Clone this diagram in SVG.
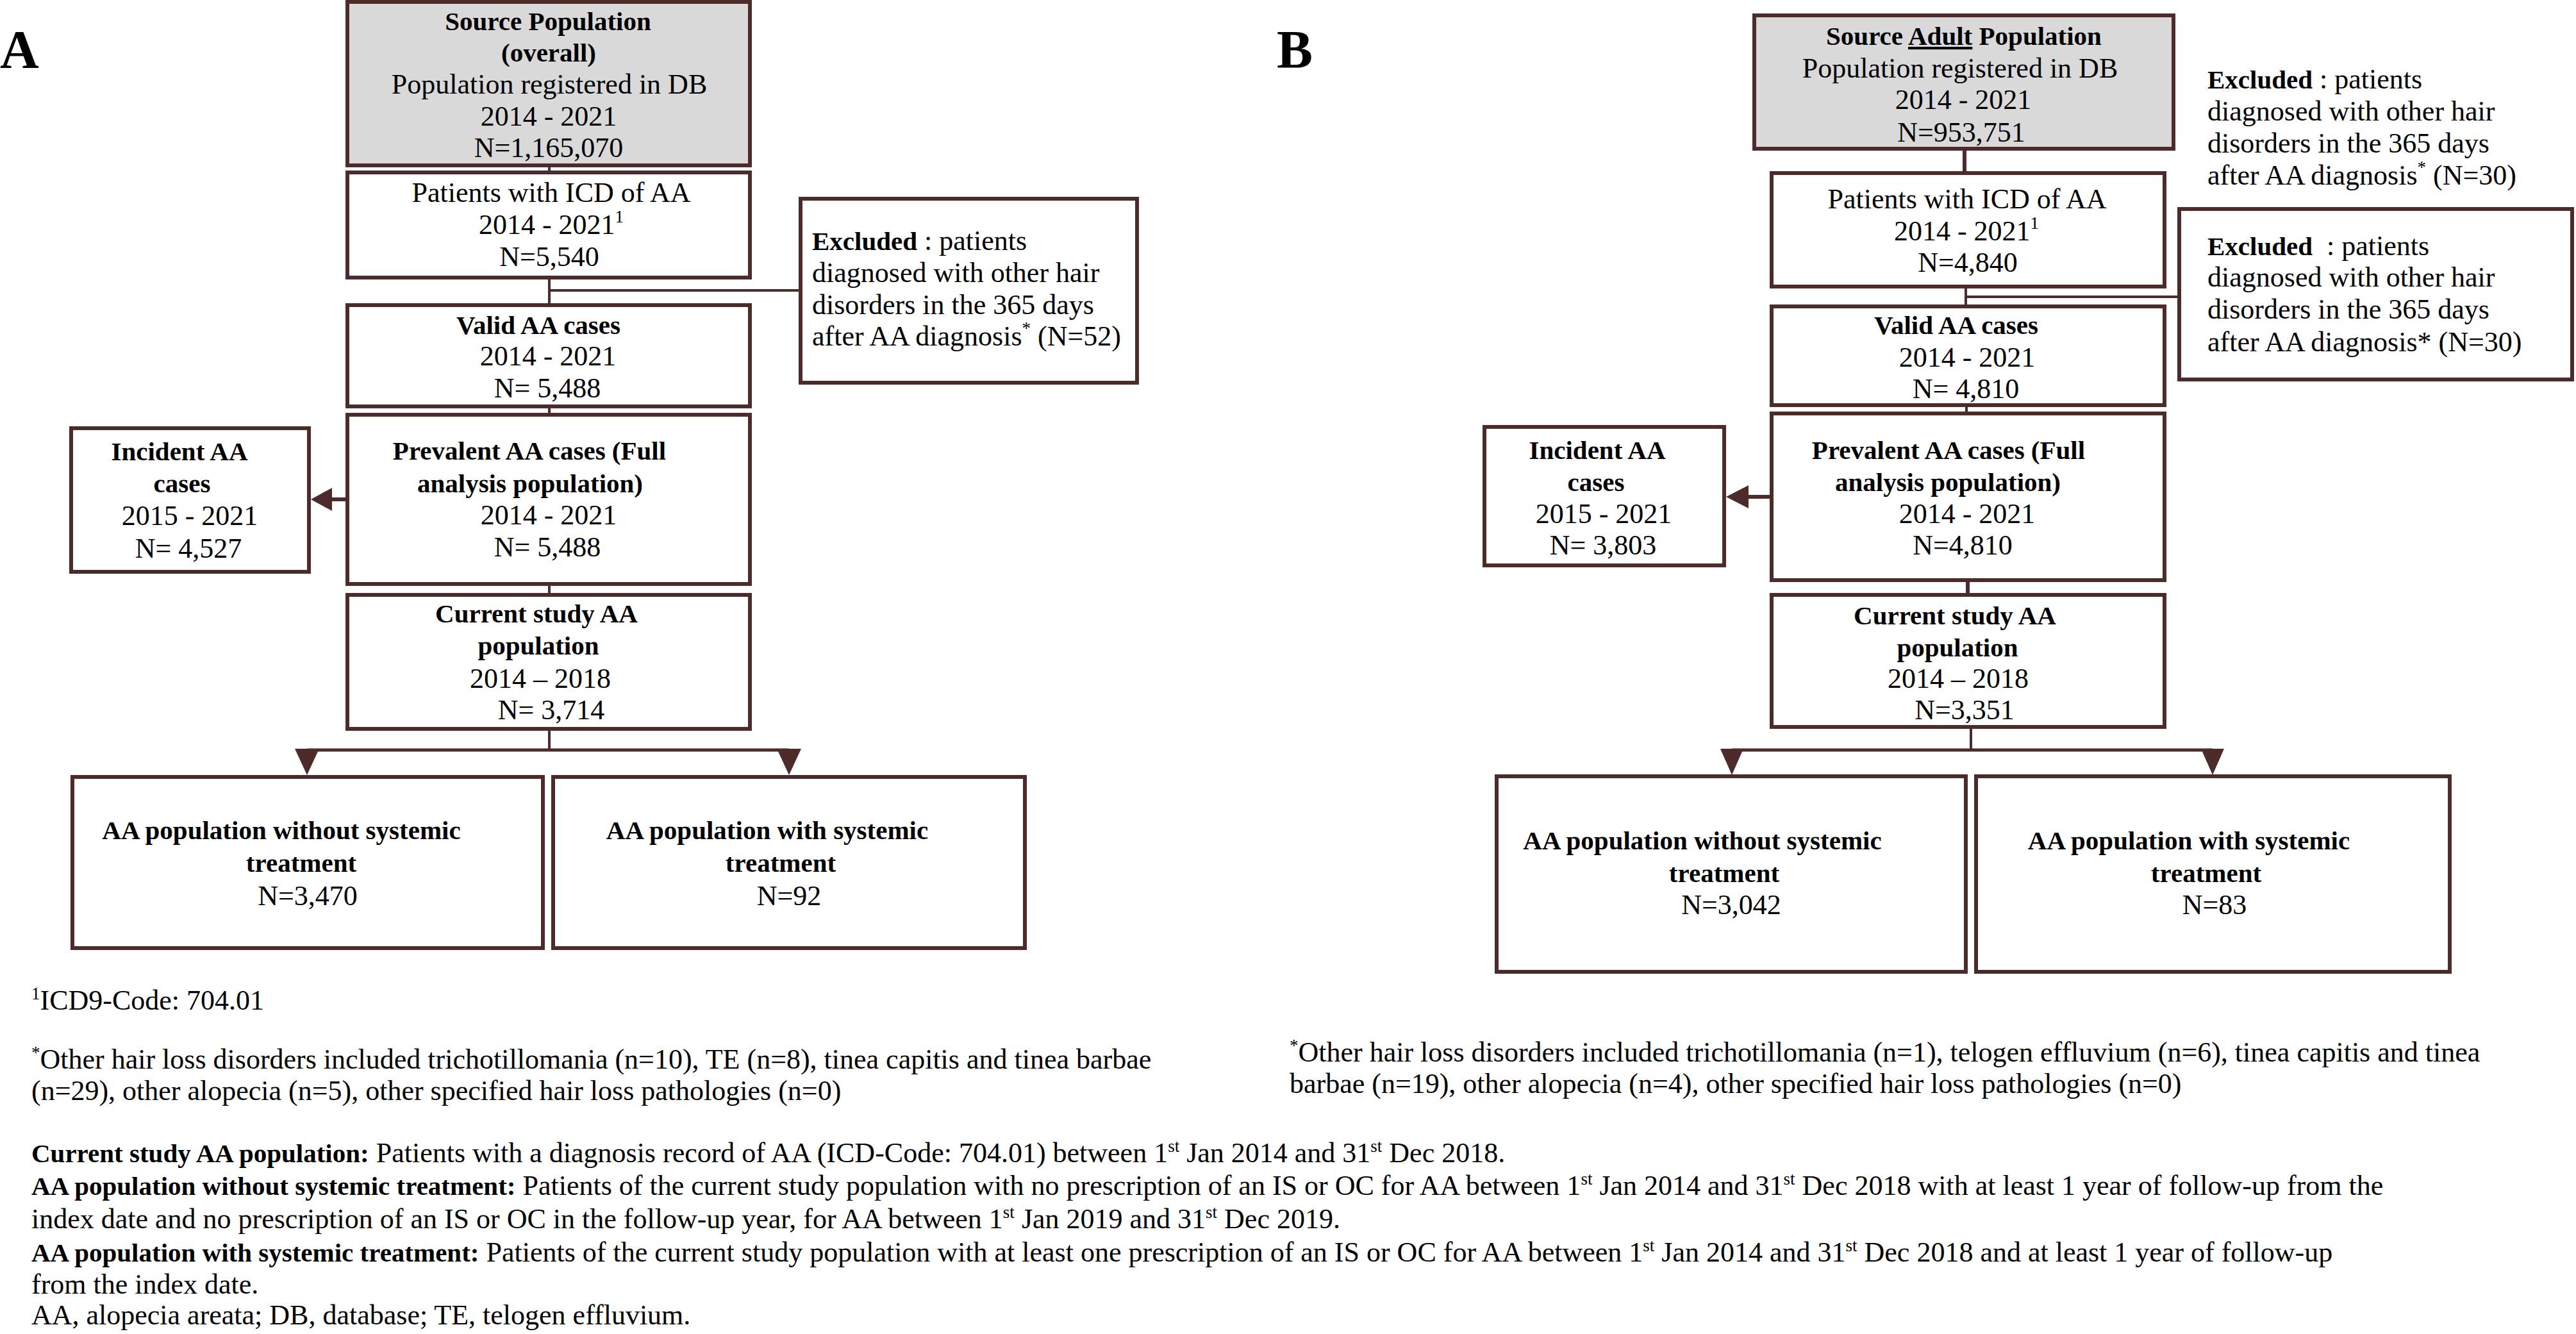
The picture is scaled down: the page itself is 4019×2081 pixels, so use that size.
<svg xmlns="http://www.w3.org/2000/svg" width="4019" height="2081" viewBox="0 0 4019 2081">
<style>
.box{fill:#fff;stroke:#4d2b2b;stroke-width:6}
.src{fill:#d9d9d9;stroke:#4d2b2b;stroke-width:6}
text{font-family:"Liberation Serif","Times New Roman",serif;font-size:44px;fill:#000}
.c{text-anchor:middle}
.b{font-weight:bold;font-size:41px}
.lbl{font-weight:bold;font-size:84px}
.conn{stroke:#4d2b2b;stroke-width:4;fill:none}
.thick{stroke-width:6}
.head{fill:#4d2b2b}
.sup{font-size:27px}
</style>
<rect width="4019" height="2081" fill="#fff"/>
<text class="lbl" x="0" y="106">A</text>
<text class="lbl" x="1992" y="106">B</text>

<g id="connectors">
<line class="conn" x1="857" y1="258" x2="857" y2="269"/>
<line class="conn" x1="857" y1="433" x2="857" y2="476"/>
<line class="conn" x1="857" y1="453" x2="1249" y2="453"/>
<line class="conn" x1="857" y1="634" x2="857" y2="647"/>
<line class="conn" x1="857" y1="911" x2="857" y2="928"/>
<line class="conn thick" x1="542" y1="779" x2="516" y2="779"/>
<polygon class="head" points="485,779 518,761 518,797"/>
<line class="conn" x1="857" y1="1137" x2="857" y2="1170"/>
<line class="conn" x1="479" y1="1170" x2="1231" y2="1170" style="stroke-width:5"/>
<polygon class="head" points="460,1168 498,1168 479,1209"/>
<polygon class="head" points="1212,1168 1250,1168 1231,1209"/>

<line class="conn thick" x1="3065" y1="232" x2="3065" y2="270"/>
<line class="conn" x1="3067" y1="447" x2="3067" y2="478"/>
<line class="conn" x1="3067" y1="463" x2="3400" y2="463"/>
<line class="conn" x1="3068" y1="632" x2="3068" y2="645"/>
<line class="conn thick" x1="3070" y1="905" x2="3070" y2="928"/>
<line class="conn thick" x1="2764" y1="775" x2="2726" y2="775"/>
<polygon class="head" points="2693,775 2728,757 2728,793"/>
<line class="conn" x1="3075" y1="1134" x2="3075" y2="1170"/>
<line class="conn" x1="2702" y1="1170" x2="3452" y2="1170" style="stroke-width:5"/>
<polygon class="head" points="2684,1168 2720,1168 2702,1209"/>
<polygon class="head" points="3434,1168 3470,1168 3452,1209"/>
</g>

<g id="a-source">
<rect class="src" x="542" y="3" width="628" height="255"/>
<text class="c b" x="855" y="47">Source Population</text>
<text class="c b" x="856" y="96">(overall)</text>
<text class="c" x="857" y="146">Population registered in DB</text>
<text class="c" x="856" y="196">2014 - 2021</text>
<text class="c" x="856" y="245">N=1,165,070</text>
</g>
<g id="a-icd">
<rect class="box" x="542" y="269" width="628" height="164"/>
<text class="c" x="860" y="315">Patients with ICD of AA</text>
<text class="c" x="860" y="365">2014 - 2021<tspan class="sup" dy="-18">1</tspan></text>
<text class="c" x="857" y="415">N=5,540</text>
</g>
<g id="a-valid">
<rect class="box" x="542" y="476" width="628" height="158"/>
<text class="c b" x="840" y="521">Valid AA cases</text>
<text class="c" x="855" y="570">2014 - 2021</text>
<text class="c" x="854" y="620">N= 5,488</text>
</g>
<g id="a-excluded">
<rect class="box" x="1249" y="310" width="525" height="287"/>
<text x="1267" y="390"><tspan font-weight="bold" font-size="41">Excluded</tspan> : patients</text>
<text x="1267" y="440">diagnosed with other hair</text>
<text x="1267" y="490">disorders in the 365 days</text>
<text x="1267" y="539">after AA diagnosis<tspan class="sup" dy="-18">*</tspan><tspan dy="18"> (N=52)</tspan></text>
</g>
<g id="a-prevalent">
<rect class="box" x="542" y="647" width="628" height="264"/>
<text class="c b" x="826" y="717">Prevalent AA cases (Full</text>
<text class="c b" x="827" y="768">analysis population)</text>
<text class="c" x="856" y="818">2014 - 2021</text>
<text class="c" x="854" y="868">N= 5,488</text>
</g>
<g id="a-incident">
<rect class="box" x="111" y="668" width="371" height="224"/>
<text class="c b" x="280" y="718">Incident AA</text>
<text class="c b" x="284" y="768">cases</text>
<text class="c" x="296" y="819">2015 - 2021</text>
<text class="c" x="294" y="870">N= 4,527</text>
</g>
<g id="a-current">
<rect class="box" x="542" y="928" width="628" height="209"/>
<text class="c b" x="837" y="971">Current study AA</text>
<text class="c b" x="840" y="1021">population</text>
<text class="c" x="843" y="1073">2014 – 2018</text>
<text class="c" x="860" y="1122">N= 3,714</text>
</g>
<g id="a-without">
<rect class="box" x="113" y="1212" width="734" height="267"/>
<text class="c b" x="439" y="1309">AA population without systemic</text>
<text class="c b" x="470" y="1360">treatment</text>
<text class="c" x="480" y="1412">N=3,470</text>
</g>
<g id="a-with">
<rect class="box" x="863" y="1212" width="736" height="267"/>
<text class="c b" x="1197" y="1309">AA population with systemic</text>
<text class="c b" x="1218" y="1360">treatment</text>
<text class="c" x="1231" y="1412">N=92</text>
</g>

<g id="b-source">
<rect class="src" x="2737" y="24" width="654" height="208"/>
<text class="c b" x="3064" y="70">Source <tspan text-decoration="underline">Adult</tspan> Population</text>
<text class="c" x="3058" y="121">Population registered in DB</text>
<text class="c" x="3063" y="170">2014 - 2021</text>
<text class="c" x="3060" y="221">N=953,751</text>
</g>
<g id="b-excluded-note">
<text x="3444" y="138"><tspan font-weight="bold" font-size="41">Excluded</tspan> : patients</text>
<text x="3444" y="188">diagnosed with other hair</text>
<text x="3444" y="238">disorders in the 365 days</text>
<text x="3444" y="288">after AA diagnosis<tspan class="sup" dy="-18">*</tspan><tspan dy="18"> (N=30)</tspan></text>
</g>
<g id="b-icd">
<rect class="box" x="2764" y="270" width="613" height="177"/>
<text class="c" x="3069" y="325">Patients with ICD of AA</text>
<text class="c" x="3068" y="375">2014 - 2021<tspan class="sup" dy="-18">1</tspan></text>
<text class="c" x="3070" y="424">N=4,840</text>
</g>
<g id="b-excluded">
<rect class="box" x="3400" y="326" width="613" height="266"/>
<text x="3444" y="398" xml:space="preserve"><tspan font-weight="bold" font-size="41">Excluded</tspan>  : patients</text>
<text x="3444" y="447">diagnosed with other hair</text>
<text x="3444" y="497">disorders in the 365 days</text>
<text x="3444" y="548">after AA diagnosis* (N=30)</text>
</g>
<g id="b-valid">
<rect class="box" x="2764" y="478" width="613" height="154"/>
<text class="c b" x="3052" y="521">Valid AA cases</text>
<text class="c" x="3069" y="572">2014 - 2021</text>
<text class="c" x="3067" y="621">N= 4,810</text>
</g>
<g id="b-prevalent">
<rect class="box" x="2764" y="645" width="613" height="260"/>
<text class="c b" x="3040" y="716">Prevalent AA cases (Full</text>
<text class="c b" x="3039" y="766">analysis population)</text>
<text class="c" x="3069" y="816">2014 - 2021</text>
<text class="c" x="3062" y="865">N=4,810</text>
</g>
<g id="b-incident">
<rect class="box" x="2316" y="666" width="374" height="216"/>
<text class="c b" x="2492" y="716">Incident AA</text>
<text class="c b" x="2490" y="766">cases</text>
<text class="c" x="2502" y="816">2015 - 2021</text>
<text class="c" x="2501" y="865">N= 3,803</text>
</g>
<g id="b-current">
<rect class="box" x="2764" y="928" width="613" height="206"/>
<text class="c b" x="3050" y="974">Current study AA</text>
<text class="c b" x="3054" y="1024">population</text>
<text class="c" x="3055" y="1073">2014 – 2018</text>
<text class="c" x="3065" y="1122">N=3,351</text>
</g>
<g id="b-without">
<rect class="box" x="2335" y="1211" width="732" height="305"/>
<text class="c b" x="2656" y="1325">AA population without systemic</text>
<text class="c b" x="2690" y="1376">treatment</text>
<text class="c" x="2701" y="1426">N=3,042</text>
</g>
<g id="b-with">
<rect class="box" x="3083" y="1211" width="739" height="305"/>
<text class="c b" x="3415" y="1325">AA population with systemic</text>
<text class="c b" x="3442" y="1376">treatment</text>
<text class="c" x="3455" y="1426">N=83</text>
</g>

<g id="footnotes">
<text x="49" y="1575"><tspan class="sup" dy="-16">1</tspan><tspan dy="16">ICD9-Code: 704.01</tspan></text>
<text x="49" y="1667"><tspan class="sup" dy="-16">*</tspan><tspan dy="16">Other hair loss disorders included trichotillomania (n=10), TE (n=8), tinea capitis and tinea barbae</tspan></text>
<text x="49" y="1716">(n=29), other alopecia (n=5), other specified hair loss pathologies (n=0)</text>
<text x="2012" y="1656"><tspan class="sup" dy="-16">*</tspan><tspan dy="16">Other hair loss disorders included trichotillomania (n=1), telogen effluvium (n=6), tinea capitis and tinea</tspan></text>
<text x="2012" y="1705">barbae (n=19), other alopecia (n=4), other specified hair loss pathologies (n=0)</text>

<text x="49" y="1813"><tspan font-weight="bold" font-size="41">Current study AA population:</tspan> Patients with a diagnosis record of AA (ICD-Code: 704.01) between 1<tspan class="sup" dy="-16">st</tspan><tspan dy="16"> Jan 2014 and 31</tspan><tspan class="sup" dy="-16">st</tspan><tspan dy="16"> Dec 2018.</tspan></text>
<text x="49" y="1864"><tspan font-weight="bold" font-size="41">AA population without systemic treatment:</tspan> Patients of the current study population with no prescription of an IS or OC for AA between 1<tspan class="sup" dy="-16">st</tspan><tspan dy="16"> Jan 2014 and 31</tspan><tspan class="sup" dy="-16">st</tspan><tspan dy="16"> Dec 2018 with at least 1 year of follow-up from the</tspan></text>
<text x="49" y="1916">index date and no prescription of an IS or OC in the follow-up year, for AA between 1<tspan class="sup" dy="-16">st</tspan><tspan dy="16"> Jan 2019 and 31</tspan><tspan class="sup" dy="-16">st</tspan><tspan dy="16"> Dec 2019.</tspan></text>
<text x="49" y="1968"><tspan font-weight="bold" font-size="41">AA population with systemic treatment:</tspan> Patients of the current study population with at least one prescription of an IS or OC for AA between 1<tspan class="sup" dy="-16">st</tspan><tspan dy="16"> Jan 2014 and 31</tspan><tspan class="sup" dy="-16">st</tspan><tspan dy="16"> Dec 2018 and at least 1 year of follow-up</tspan></text>
<text x="49" y="2018">from the index date.</text>
<text x="49" y="2066">AA, alopecia areata; DB, database; TE, telogen effluvium.</text>
</g>
</svg>
